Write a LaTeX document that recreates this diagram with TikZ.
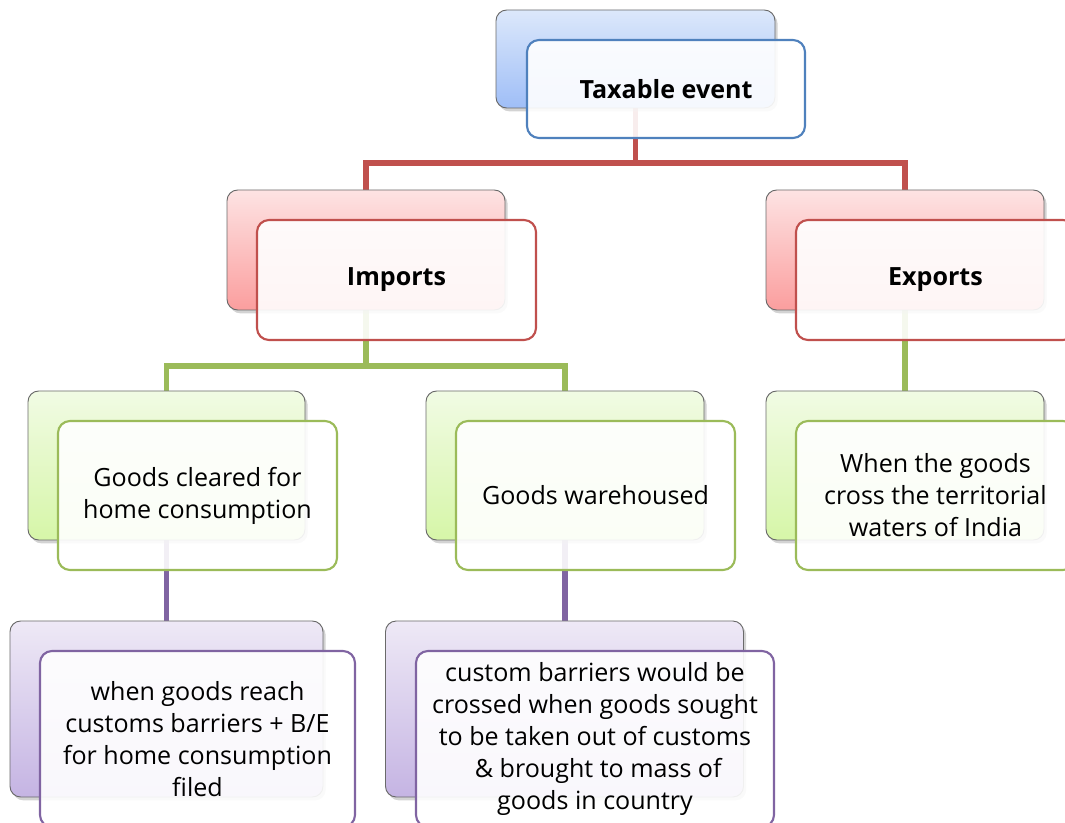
\documentclass[tikz,border=0pt]{standalone}
\usepackage{fontspec}
\setmainfont{Open Sans}
\usetikzlibrary{shadows}
\definecolor{bluetop}{HTML}{DCE8FB}
\definecolor{bluebot}{HTML}{9FBEF7}
\definecolor{blueln}{HTML}{4F81BD}
\definecolor{redtop}{HTML}{FDE3E3}
\definecolor{redbot}{HTML}{FB9E9E}
\definecolor{redln}{HTML}{C0504D}
\definecolor{greentop}{HTML}{F1FBE4}
\definecolor{greenbot}{HTML}{D6F6A8}
\definecolor{greenln}{HTML}{9BBB59}
\definecolor{purptop}{HTML}{EEE9F6}
\definecolor{purpbot}{HTML}{C5B4E3}
\definecolor{purpln}{HTML}{8064A2}
\definecolor{backln}{HTML}{6A6A6A}
\tikzset{
  backbox/.style={rectangle, rounded corners=8pt, draw=backln, line width=0.7pt,
    drop shadow={shadow xshift=2pt, shadow yshift=-2.5pt, opacity=0.35}},
  frontbox/.style={rectangle, rounded corners=9pt, fill=white, fill opacity=0.9,
    text opacity=1, line width=1.6pt, align=center, font=\fontsize{18.8}{24}\selectfont},
  bluebk/.style={backbox, top color=bluetop, bottom color=bluebot},
  redbk/.style={backbox, top color=redtop, bottom color=redbot},
  greenbk/.style={backbox, top color=greentop, bottom color=greenbot},
  purpbk/.style={backbox, top color=purptop, bottom color=purpbot},
  conn/.style={line width=3.8pt}
}
\begin{document}
\begin{tikzpicture}[x=0.75pt,y=-0.75pt]
\useasboundingbox (0,0) rectangle (1065,823);
% back box positions
\path (635.5,59)  node[inner sep=0, minimum width=279*0.75pt, minimum height=98*0.75pt] (tb) {};
\path (366,250)   node[inner sep=0, minimum width=278*0.75pt, minimum height=120*0.75pt] (imp) {};
\path (905,250)   node[inner sep=0, minimum width=278*0.75pt, minimum height=120*0.75pt] (exp) {};
\path (166.5,465.5) node[inner sep=0, minimum width=277*0.75pt, minimum height=149*0.75pt] (gc) {};
\path (565,465.5) node[inner sep=0, minimum width=278*0.75pt, minimum height=149*0.75pt] (gw) {};
\path (905,465.5) node[inner sep=0, minimum width=278*0.75pt, minimum height=149*0.75pt] (wg) {};
\path (166.5,709) node[inner sep=0, minimum width=313*0.75pt, minimum height=176*0.75pt] (bl) {};
\path (564.5,709) node[inner sep=0, minimum width=358*0.75pt, minimum height=176*0.75pt] (bm) {};
% connectors
\draw[conn, redln] (tb.south) -- (tb.south |- 0,163) -| (imp.north);
\draw[conn, redln] (tb.south |- 0,163) -| (exp.north);
\draw[conn, greenln] (imp.south) -- (imp.south |- 0,366) -| (gc.north);
\draw[conn, greenln] (imp.south |- 0,366) -| (gw.north);
\draw[conn, greenln] (exp.south) -- (wg.north);
\draw[conn, purpln] (gc.south) -- (gc.south |- bl.north);
\draw[conn, purpln] (gw.south) -- (gw.south |- bm.north);
% back boxes
\node[bluebk, minimum width=279*0.75pt, minimum height=98*0.75pt] (tbk) at (tb) {};
\node[redbk, minimum width=278*0.75pt, minimum height=120*0.75pt] (impk) at (imp) {};
\node[redbk, minimum width=278*0.75pt, minimum height=120*0.75pt] (expk) at (exp) {};
\node[greenbk, minimum width=277*0.75pt, minimum height=149*0.75pt] (gck) at (gc) {};
\node[greenbk, minimum width=278*0.75pt, minimum height=149*0.75pt] (gwk) at (gw) {};
\node[greenbk, minimum width=278*0.75pt, minimum height=149*0.75pt] (wgk) at (wg) {};
\node[purpbk, minimum width=313*0.75pt, minimum height=176*0.75pt] (blk) at (bl) {};
\node[purpbk, minimum width=358*0.75pt, minimum height=176*0.75pt] (bmk) at (bm) {};
% front boxes
\node[frontbox, draw=blueln, minimum width=278*0.75pt, minimum height=98*0.75pt] (tbf) at (666,89) {\bfseries Taxable event};
\node[frontbox, draw=redln, minimum width=279*0.75pt, minimum height=120*0.75pt] (impf) at (396.5,280) {\bfseries Imports};
\node[frontbox, draw=redln, minimum width=279*0.75pt, minimum height=120*0.75pt] (expf) at (935.5,280) {\bfseries Exports};
\node[frontbox, draw=greenln, minimum width=279*0.75pt, minimum height=149*0.75pt] (gcf) at (197.5,495.5) {Goods cleared for\\home consumption};
\node[frontbox, draw=greenln, minimum width=279*0.75pt, minimum height=149*0.75pt] (gwf) at (595.5,495.5) {Goods warehoused};
\node[frontbox, draw=greenln, minimum width=279*0.75pt, minimum height=149*0.75pt] (wgf) at (935.5,495.5) {When the goods\\cross the territorial\\waters of India};
\node[frontbox, draw=purpln, minimum width=315*0.75pt, minimum height=176*0.75pt] (blf) at (197.5,739) {when goods reach\\customs barriers + B/E\\for home consumption\\filed};
\node[frontbox, draw=purpln, minimum width=358*0.75pt, minimum height=176*0.75pt] (bmf) at (595,739) {custom barriers would be\\crossed when goods sought\\to be taken out of customs\\\ \& brought to mass of\\goods in country};
\end{tikzpicture}
\end{document}
